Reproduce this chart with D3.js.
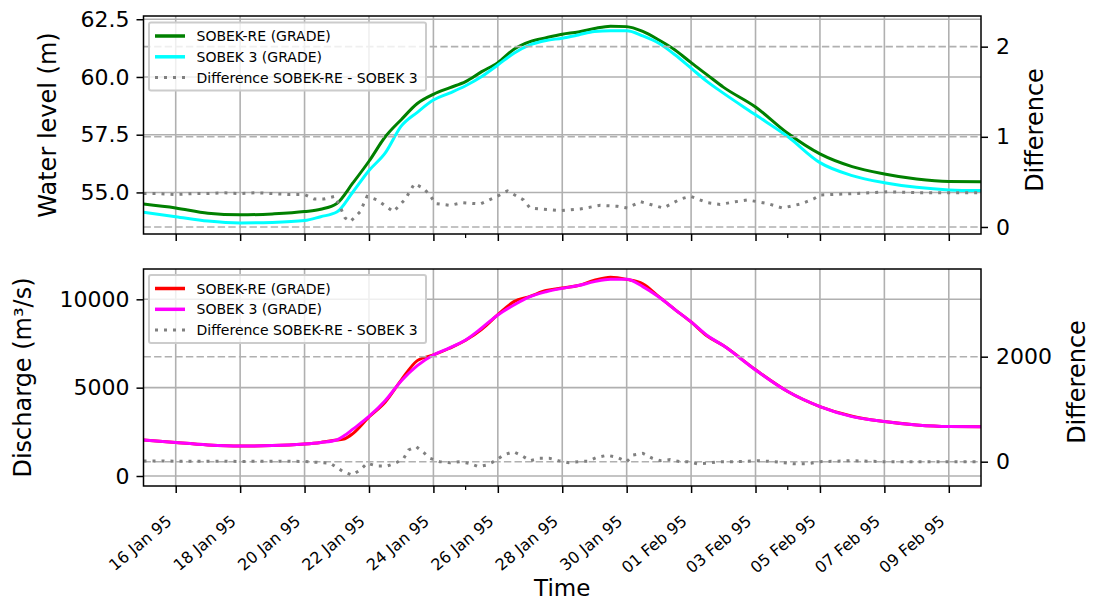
<!DOCTYPE html>
<html><head><meta charset="utf-8">
<script src="https://cdn.jsdelivr.net/npm/d3@7"></script>
<style>
body{margin:0;background:#fff}
svg{display:block}
text{font-family:"DejaVu Sans",sans-serif;fill:#000}
</style>
</head><body>
<svg id="c" width="1093" height="602"></svg>
<script>
// ---------------- DATA ----------------
const startDate = "1995-01-15";
const endDate = "1995-02-10";

// Water level (m), day offsets from startDate
const levelDays = [0,1,2,3,4,5,5.5,6,6.5,7,7.5,8,8.5,9,9.5,10,10.5,11,11.5,12,12.5,13,13.5,14,14.5,15,15.5,16,16.5,17,17.5,18,19,20,21,22,23,24,25,26];
const levelSobekRE = [54.50,54.33,54.10,54.03,54.07,54.17,54.27,54.52,55.41,56.35,57.40,58.15,58.85,59.25,59.53,59.80,60.23,60.62,61.20,61.53,61.70,61.85,61.95,62.10,62.20,62.18,61.97,61.60,61.17,60.62,60.09,59.56,58.70,57.56,56.67,56.12,55.80,55.58,55.47,55.46];
const levelSobek3  = [54.14,53.95,53.76,53.68,53.70,53.78,53.95,54.15,55.02,55.95,56.70,57.87,58.47,59.00,59.30,59.62,60.02,60.52,61.03,61.39,61.58,61.68,61.82,61.97,62.00,62.00,61.78,61.46,60.96,60.38,59.80,59.30,58.36,57.42,56.29,55.73,55.42,55.22,55.11,55.08];

const levelDiffDays = [0,0.5,1,1.5,2,2.5,3,3.5,4,4.5,5,5.3,5.6,5.95,6.26,6.42,6.73,6.94,7.25,7.76,8.13,8.41,8.69,8.9,9.06,9.52,9.9,10.45,10.98,11.3,11.8,12.0,12.94,13.56,14.18,14.71,15.02,15.43,15.83,16.14,16.67,16.98,17.5,17.9,18.38,18.75,19.37,19.83,20.4,20.8,21.0,22.04,23.1,24.1,25,26];
const levelDiff = [0.37,0.37,0.36,0.37,0.37,0.38,0.37,0.38,0.37,0.36,0.36,0.31,0.31,0.34,0.10,0.06,0.17,0.34,0.30,0.17,0.31,0.48,0.43,0.35,0.26,0.24,0.27,0.255,0.34,0.40,0.30,0.21,0.18,0.20,0.24,0.23,0.21,0.28,0.24,0.21,0.31,0.34,0.27,0.25,0.28,0.30,0.26,0.21,0.255,0.31,0.355,0.37,0.39,0.38,0.38,0.38];

// Discharge (m3/s)
const qDays = [0,1,2,3,4,5,5.5,6,6.25,6.5,7,7.5,8,8.5,9,9.5,10,10.5,11,11.5,12,12.5,13,13.5,14,14.5,15,15.5,16,16.5,17,17.5,18,19,20,21,22,23,24,25,26];
const qSobekRE = [2040,1890,1760,1700,1720,1810,1900,2040,2110,2400,3340,4180,5430,6530,6850,7230,7680,8300,9130,9870,10170,10495,10640,10780,11080,11250,11130,10880,10150,9420,8720,7920,7380,6010,4780,3930,3380,3080,2890,2800,2790];
const qSobek3  = [2040,1890,1760,1700,1720,1810,1900,2040,2300,2650,3370,4260,5380,6250,6850,7250,7700,8380,9115,9680,10150,10430,10620,10780,11000,11130,11130,10720,10130,9420,8720,7950,7380,6000,4780,3930,3360,3080,2890,2800,2790];

const qDiffDays = [0,1,2,3,4,5,5.8,6.2,6.47,6.73,6.94,7.25,7.56,7.82,8.08,8.23,8.47,8.7,8.9,9.2,9.52,9.83,10.1,10.4,10.67,10.92,11.18,11.49,11.76,12.0,12.3,12.6,12.88,13.2,13.5,13.8,14.08,14.4,14.7,15.0,15.2,15.5,15.8,16.05,16.35,16.67,16.9,17.2,17.5,17.85,18.16,18.4,19.1,19.6,20.2,20.6,21,22,23,24,25,26];
const qDiff = [15,10,10,5,10,5,-30,-190,-253,-158,-30,-82,-82,-30,65,223,286,171,65,0,-19,0,-30,-95,-63,19,128,190,108,19,65,65,19,-19,0,10,83,122,83,0,128,160,65,19,40,0,0,-40,-30,0,0,0,19,0,-40,-40,0,19,0,0,0,0];

const xTickDates = ["1995-01-16","1995-01-18","1995-01-20","1995-01-22","1995-01-24","1995-01-26","1995-01-28","1995-01-30","1995-02-01","1995-02-03","1995-02-05","1995-02-07","1995-02-09"];
const xMinorDates = ["1995-01-25","1995-02-04"];
const levelTicks = [55.0,57.5,60.0,62.5];
const levelDiffTicks = [0,1,2];
const qTicks = [0,5000,10000];
const qDiffTicks = [0,2000];

const legendLevel = ["SOBEK-RE (GRADE)","SOBEK 3 (GRADE)","Difference SOBEK-RE - SOBEK 3"];
const legendQ = ["SOBEK-RE (GRADE)","SOBEK 3 (GRADE)","Difference SOBEK-RE - SOBEK 3"];

// ---------------- LAYOUT ----------------
const svg = d3.select("#c");
const parse = d3.utcParse("%Y-%m-%d");
const t0 = parse(startDate);
const toDate = d => new Date(t0.getTime() + d * 864e5);
const X0 = 143.5, X1 = 981;
const x = d3.scaleUtc().domain([t0, parse(endDate)]).range([X0, X1]);
const fmtX = d3.utcFormat("%d %b %y");

const GRID = "#b0b0b0";
const panels = [
  {y0:16, y1:234, yl:[53.2,62.64], yr:[-0.078,2.34], lt:levelTicks, rt:levelDiffTicks, lf:d3.format(".1f"), rf:d3.format("d"),
   days:levelDays, s1:levelSobekRE, s2:levelSobek3, c1:"#008000", c2:"#00ffff", dd:levelDiffDays, dv:levelDiff,
   ylabel:"Water level (m)", ylx:48, rlx:1035, rly:130, leg:legendLevel, legY:22.5, xlabels:false},
  {y0:269, y1:486, yl:[-566,11716], yr:[-463,3670], lt:qTicks, rt:qDiffTicks, lf:d3.format("d"), rf:d3.format("d"),
   days:qDays, s1:qSobekRE, s2:qSobek3, c1:"#ff0000", c2:"#ff00ff", dd:qDiffDays, dv:qDiff,
   ylabel:"Discharge (m\u00b3/s)", ylx:23, rlx:1077, rly:382, leg:legendQ, legY:275, xlabels:true}
];

panels.forEach((p, i) => {
  const yL = d3.scaleLinear().domain(p.yl).range([p.y1, p.y0]);
  const yR = d3.scaleLinear().domain(p.yr).range([p.y1, p.y0]);
  const g = svg.append("g");
  const clipId = "clip" + i;
  svg.append("clipPath").attr("id", clipId).append("rect")
    .attr("x", X0).attr("y", p.y0).attr("width", X1 - X0).attr("height", p.y1 - p.y0);

  // left grid (solid)
  g.append("g").selectAll("line").data(p.lt).join("line")
    .attr("x1", X0).attr("x2", X1).attr("y1", d => yL(d)).attr("y2", d => yL(d))
    .attr("stroke", GRID).attr("stroke-width", 1.6);
  // vertical grid
  g.append("g").selectAll("line").data(xTickDates).join("line")
    .attr("x1", d => x(parse(d))).attr("x2", d => x(parse(d))).attr("y1", p.y0).attr("y2", p.y1)
    .attr("stroke", GRID).attr("stroke-width", 1.6);

  const plot = g.append("g").attr("clip-path", `url(#${clipId})`);
  const lineL = d3.line().x((d, k) => x(toDate(p.days[k]))).y(d => yL(d)).curve(d3.curveMonotoneX);
  plot.append("path").datum(p.s1).attr("d", lineL).attr("fill", "none")
    .attr("stroke", p.c1).attr("stroke-width", 3).attr("stroke-linejoin", "round");
  plot.append("path").datum(p.s2).attr("d", lineL).attr("fill", "none")
    .attr("stroke", p.c2).attr("stroke-width", 3).attr("stroke-linejoin", "round");

  // right grid (dashed)
  plot.append("g").selectAll("line").data(p.rt).join("line")
    .attr("x1", X0).attr("x2", X1).attr("y1", d => yR(d)).attr("y2", d => yR(d))
    .attr("stroke", GRID).attr("stroke-width", 1.6).attr("stroke-dasharray", "7.4,3.2");

  const lineR = d3.line().x((d, k) => x(toDate(p.dd[k]))).y(d => yR(d));
  plot.append("path").datum(p.dv).attr("d", lineR).attr("fill", "none")
    .attr("stroke", "#808080").attr("stroke-width", 3).attr("stroke-dasharray", "3,6");

  // spines
  g.append("rect").attr("x", X0).attr("y", p.y0).attr("width", X1 - X0).attr("height", p.y1 - p.y0)
    .attr("fill", "none").attr("stroke", "#000").attr("stroke-width", 1.5);

  // left axis
  const ax = g.append("g").attr("transform", `translate(${X0},0)`)
    .call(d3.axisLeft(yL).tickValues(p.lt).tickFormat(p.lf).tickSize(7).tickPadding(7));
  ax.select(".domain").remove();
  ax.selectAll(".tick line").attr("stroke", "#000").attr("stroke-width", 1.5);
  ax.selectAll(".tick text").attr("font-size", 22).attr("fill", "#000").attr("font-family", "DejaVu Sans");
  // right axis
  const ar = g.append("g").attr("transform", `translate(${X1},0)`)
    .call(d3.axisRight(yR).tickValues(p.rt).tickFormat(p.rf).tickSize(7).tickPadding(8));
  ar.select(".domain").remove();
  ar.selectAll(".tick line").attr("stroke", "#000").attr("stroke-width", 1.5);
  ar.selectAll(".tick text").attr("font-size", 22).attr("fill", "#000").attr("font-family", "DejaVu Sans");
  // bottom ticks
  const ab = g.append("g").attr("transform", `translate(0,${p.y1})`)
    .call(d3.axisBottom(x).tickValues(xTickDates.map(parse)).tickFormat("").tickSize(7));
  ab.select(".domain").remove();
  ab.selectAll(".tick line").attr("stroke", "#000").attr("stroke-width", 1.5);
  g.append("g").selectAll("line").data(xMinorDates).join("line")
    .attr("x1", d => x(parse(d))).attr("x2", d => x(parse(d))).attr("y1", p.y1).attr("y2", p.y1 + 4)
    .attr("stroke", "#000").attr("stroke-width", 1.2);

  if (p.xlabels) {
    g.append("g").selectAll("text").data(xTickDates).join("text")
      .attr("transform", d => `translate(${x(parse(d)) - 3},${p.y1 + 37}) rotate(-40)`)
      .attr("text-anchor", "end").attr("font-size", 16).text(d => fmtX(parse(d)));
  }

  // y labels
  g.append("text").attr("transform", `translate(${p.ylx},${(p.y0 + p.y1) / 2}) rotate(-90)`)
    .attr("text-anchor", "middle").attr("dominant-baseline", "central").attr("font-size", 24).text(p.ylabel);
  g.append("text").attr("transform", `translate(${p.rlx},${p.rly}) rotate(-90)`)
    .attr("text-anchor", "middle").attr("dominant-baseline", "central").attr("font-size", 24).text("Difference");

  // legend
  const lg = g.append("g").attr("transform", `translate(149,${p.legY})`);
  lg.append("rect").attr("width", 277).attr("height", 68).attr("rx", 2)
    .attr("fill", "#fff").attr("fill-opacity", 0.8).attr("stroke", "#cccccc").attr("stroke-width", 2);
  const styles = [{c:p.c1, dash:null}, {c:p.c2, dash:null}, {c:"#808080", dash:"3,6"}];
  p.leg.forEach((lab, k) => {
    const yy = 13.5 + k * 20.8;
    const ln = lg.append("line").attr("x1", 6).attr("x2", 36).attr("y1", yy).attr("y2", yy)
      .attr("stroke", styles[k].c).attr("stroke-width", 3.5);
    if (styles[k].dash) ln.attr("stroke-dasharray", styles[k].dash).attr("stroke-width", 3);
    lg.append("text").attr("x", 47.5).attr("y", yy).attr("dominant-baseline", "central")
      .attr("font-size", 14).attr("fill", "#222").text(lab);
  });
});

svg.append("text").attr("x", (X0 + X1) / 2).attr("y", 596).attr("text-anchor", "middle")
  .attr("font-size", 23).text("Time");
</script>
</body></html>
